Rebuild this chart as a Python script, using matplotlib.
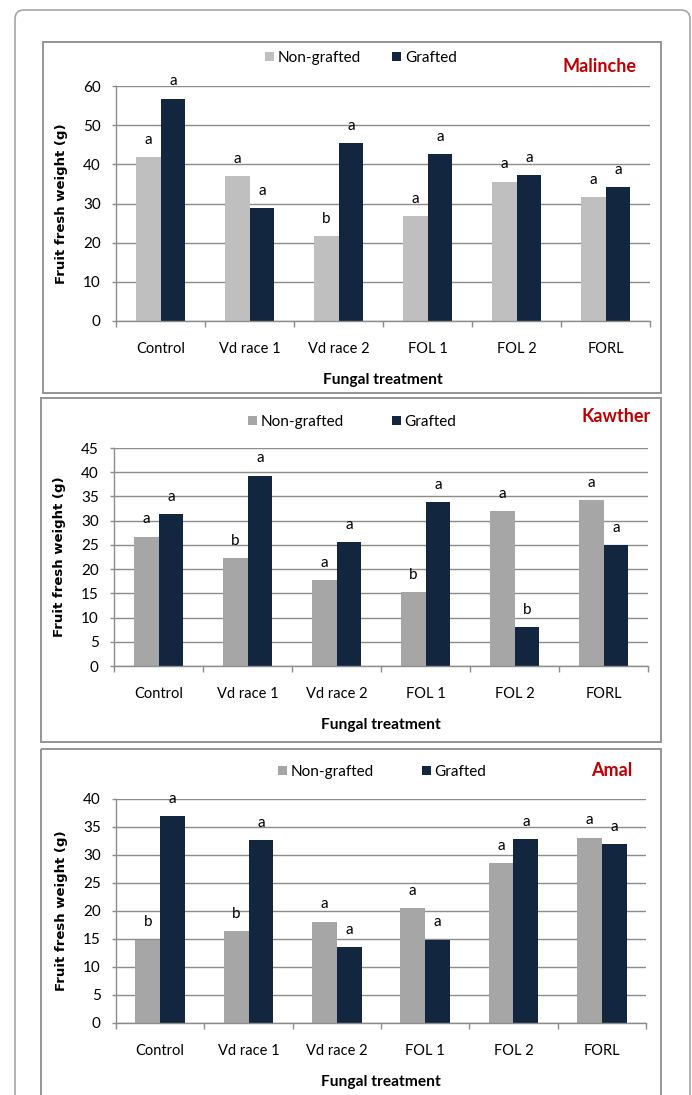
import numpy as np
import matplotlib
matplotlib.use('Agg')
import matplotlib.pyplot as plt
from matplotlib.patches import Rectangle, FancyBboxPatch

plt.rcParams['font.family'] = ['Lato', 'DejaVu Sans']

# fungal treatments on the x axis
treatments = ['Control', 'Vd race 1', 'Vd race 2', 'FOL 1', 'FOL 2', 'FORL']

# fruit fresh weight (g) per cultivar
malinche_ng = [41.8, 37.0, 21.6, 26.8, 35.6, 31.7]
malinche_g = [56.8, 28.9, 45.4, 42.6, 37.3, 34.1]
malinche_ng_let = ['a', 'a', 'b', 'a', 'a', 'a']
malinche_g_let = ['a', 'a', 'a', 'a', 'a', 'a']

kawther_ng = [26.7, 22.2, 17.7, 15.2, 32.0, 34.2]
kawther_g = [31.4, 39.3, 25.5, 33.9, 8.0, 25.0]
kawther_ng_let = ['a', 'b', 'a', 'b', 'a', 'a']
kawther_g_let = ['a', 'a', 'a', 'a', 'b', 'a']

amal_ng = [14.9, 16.4, 18.1, 20.5, 28.5, 33.1]
amal_g = [37.0, 32.6, 13.5, 14.9, 32.9, 31.9]
amal_ng_let = ['b', 'b', 'a', 'a', 'a', 'a']
amal_g_let = ['a', 'a', 'a', 'a', 'a', 'a']

W, H = 692, 1095
fig = plt.figure(figsize=(W / 100, H / 100), dpi=100)

# pixel-space layer for the frames and titles
bg = fig.add_axes([0, 0, 1, 1])
bg.set_xlim(0, W)
bg.set_ylim(H, 0)
bg.axis('off')
bg.add_patch(FancyBboxPatch((15, 10), 675, 1200,
                            boxstyle='round,pad=0,rounding_size=9',
                            fc='none', ec='#a6a6a6', lw=1.2))

navy = '#12263f'
grid_c = '#8c8c8c'

panels = [
    # name, ng, g, letters, ymax, step, ng colour, axes box, panel box, legend, title pos
    ('Malinche', malinche_ng, malinche_g, malinche_ng_let, malinche_g_let, 60, 10,
     '#bfbfbf', (116, 86, 650, 321), (43, 42, 661, 393), (265, 58), (599, 66)),
    ('Kawther', kawther_ng, kawther_g, kawther_ng_let, kawther_g_let, 45, 5,
     '#a6a6a6', (114, 448, 648, 666), (41, 398, 661, 742), (248, 422), (616, 416)),
    ('Amal', amal_ng, amal_g, amal_ng_let, amal_g_let, 40, 5,
     '#a6a6a6', (116, 799, 646, 1023), (41, 749, 661, 1120), (278, 772), (612, 771)),
]

x = np.arange(len(treatments))
bw = 0.28

for (name, ng, g, ng_let, g_let, ymax, step, ng_c,
     abox, pbox, leg, tpos) in panels:
    l, t, r, b = pbox
    bg.add_patch(Rectangle((l, t), r - l, b - t, fc='none', ec='#959595', lw=1.4))

    l, t, r, b = abox
    ax = fig.add_axes([l / W, 1 - b / H, (r - l) / W, (b - t) / H])
    b1 = ax.bar(x - bw / 2, ng, bw, color=ng_c, label='Non-grafted')
    b2 = ax.bar(x + bw / 2, g, bw, color=navy, label='Grafted')

    for xi, v, s in zip(x - bw / 2, ng, ng_let):
        ax.annotate(s, (xi, v), xytext=(0, 9.5), textcoords='offset points',
                    ha='center', va='baseline', fontsize=11)
    for xi, v, s in zip(x + bw / 2, g, g_let):
        ax.annotate(s, (xi, v), xytext=(0, 9.5), textcoords='offset points',
                    ha='center', va='baseline', fontsize=11)

    ax.set_xlim(-0.5, len(treatments) - 0.5)
    ax.set_ylim(0, ymax)
    ax.set_yticks(np.arange(0, ymax + 1, step))
    ax.set_xticks(x)
    ax.set_xticklabels(treatments)
    ax.set_xticks(np.arange(-0.5, len(treatments), 1), minor=True)
    ax.tick_params(axis='x', which='major', length=0, pad=15, labelsize=10.5)
    ax.tick_params(axis='x', which='minor', length=4, color=grid_c, width=1)
    ax.tick_params(axis='y', length=3, color=grid_c, width=1, pad=8, labelsize=11)

    ax.yaxis.grid(True, color=grid_c, lw=1)
    ax.set_axisbelow(True)
    for sp in ['top', 'right']:
        ax.spines[sp].set_visible(False)
    for sp in ['left', 'bottom']:
        ax.spines[sp].set_color(grid_c)
        ax.spines[sp].set_linewidth(1)

    ax.set_ylabel('Fruit fresh weight (g)', family='DejaVu Sans',
                  fontweight='bold', fontsize=9.5)
    ax.yaxis.set_label_coords(-48 / (r - l), 0.5)
    ax.set_xlabel('Fungal treatment', fontweight='bold', fontsize=11.2)
    ax.xaxis.set_label_coords(0.5, -(59) / (b - t))
    ax.xaxis.label.set_va('center')

    ax.legend(handles=[b1, b2], ncol=2, frameon=False, loc='center left',
              bbox_to_anchor=(leg[0] / W, 1 - leg[1] / H),
              bbox_transform=fig.transFigure, borderpad=0, borderaxespad=0,
              handlelength=0.6, handleheight=0.6, handletextpad=0.25,
              columnspacing=2.0 if name == 'Malinche' else 3.1, fontsize=11)

    bg.text(tpos[0], tpos[1], name, color='#c00000', fontweight='bold',
            fontsize=13, ha='center', va='center')

fig.savefig('out.png', dpi=100)
